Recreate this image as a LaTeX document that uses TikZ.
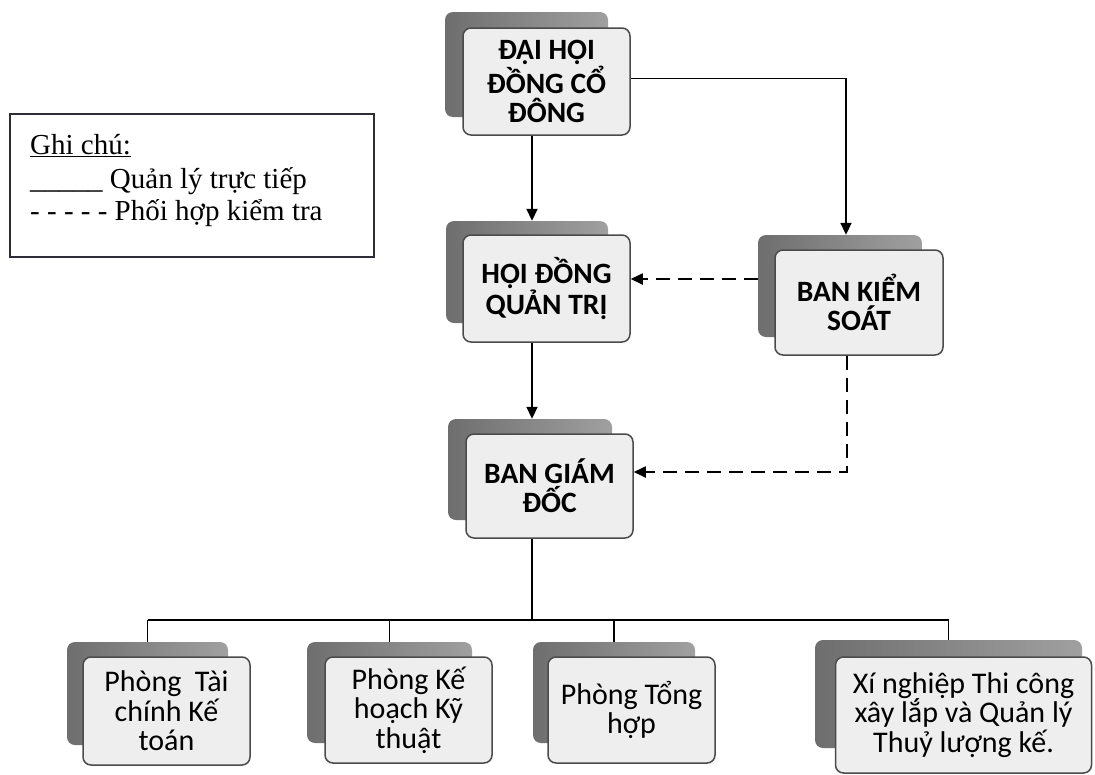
\documentclass[tikz,border=0pt]{standalone}
\usepackage{fontspec}
\setmainfont{Liberation Serif}
\newfontfamily\boxfnt{Carlito}
\usetikzlibrary{arrows.meta,calc}
\definecolor{backL}{RGB}{110,110,110}
\definecolor{backR}{RGB}{160,160,160}
\definecolor{frontF}{RGB}{238,238,238}
\definecolor{frontD}{RGB}{75,75,75}
\definecolor{legD}{RGB}{45,45,55}
\tikzset{
  backbox/.style={rectangle, rounded corners=8pt, draw=none, left color=backL, right color=backR, inner sep=0pt},
  frontbox/.style={rectangle, rounded corners=8pt, draw=frontD, line width=1.5pt, fill=frontF, inner sep=0pt, align=center},
  titlef/.style={font=\boxfnt\bfseries\fontsize{29.5}{29}\selectfont},
  deptf/.style={font=\boxfnt\fontsize{30}{29.5}\selectfont},
  conn/.style={line width=1.8pt, draw=black},
  arr/.style={conn, -{Triangle[length=12pt,width=11pt]}},
  dashconn/.style={line width=1.8pt, draw=black, dash pattern=on 14pt off 8pt},
  legtext/.style={anchor=base west, inner sep=0pt, font=\fontsize{29}{29}\selectfont}
}
\begin{document}
\begin{tikzpicture}[x=1pt,y=-1pt]
\fill[white] (0,0) rectangle (1095,774);
\useasboundingbox (0,0) rectangle (1095,774);

% Legend
\node[draw=legD, line width=2pt, minimum width=364pt, minimum height=143pt, inner sep=0pt] (leg) at (192,185.5) {};
\node[legtext] (lg1) at (30,154) {\underline{Ghi chú:}};
\node[legtext] (lg2) at (30,188) {\_\_\_\_\_ Quản lý trực tiếp};
\node[legtext] (lg3) at (30,220) {- - - - - Phối hợp kiểm tra};

% DAI HOI DONG CO DONG
\node[backbox, minimum width=163pt, minimum height=105pt] (dhb) at (526.5,64.5) {};
\node[frontbox, titlef, minimum width=167pt, minimum height=107pt] (dh) at (546.5,81.5) {ĐẠI HỘI\\ĐỒNG CỔ\\ĐÔNG};

% HOI DONG QUAN TRI
\node[backbox, minimum width=162pt, minimum height=102pt] (hqb) at (527,272) {};
\node[frontbox, titlef, minimum width=167pt, minimum height=107pt] (hq) at (546.5,288.5) {HỘI ĐỒNG\\QUẢN TRỊ};

% BAN KIEM SOAT
\node[backbox, minimum width=164pt, minimum height=102pt] (bksb) at (840,286) {};
\node[frontbox, titlef, minimum width=168pt, minimum height=105pt] (bks) at (859,302.5) {BAN KIỂM\\SOÁT};

% BAN GIAM DOC
\node[backbox, minimum width=164pt, minimum height=101pt] (bgdb) at (530,469.5) {};
\node[frontbox, titlef, minimum width=167pt, minimum height=104pt] (bgd) at (549.5,486) {BAN GIÁM\\ĐỐC};

% Departments
\node[backbox, minimum width=161pt, minimum height=103pt] (d1b) at (147.5,693.5) {};
\node[frontbox, deptf, minimum width=167pt, minimum height=108pt] (d1) at (166.5,711) {Phòng~ Tài\\chính Kế\\toán};

\node[backbox, minimum width=165pt, minimum height=101pt] (d2b) at (389.5,692.5) {};
\node[frontbox, deptf, minimum width=167pt, minimum height=106pt] (d2) at (408.5,710) {Phòng Kế\\hoạch Kỹ\\thuật};

\node[backbox, minimum width=162pt, minimum height=101pt] (d3b) at (614,692.5) {};
\node[frontbox, deptf, minimum width=167pt, minimum height=106pt] (d3) at (631.5,710) {Phòng Tổng\\hợp};

\node[backbox, minimum width=267pt, minimum height=108pt] (d4b) at (948.5,694) {};
\node[frontbox, deptf, minimum width=256pt, minimum height=116pt] (d4) at (963.5,715) {Xí nghiệp Thi công\\xây lắp và Quản lý\\Thuỷ lượng kế.};

% Connectors
\coordinate (c1) at ([yshift=3pt]dh.east);
\coordinate (c2) at ([xshift=6pt]bksb.north);
\draw[arr] (c1) -| (c2);

\coordinate (c3) at ([xshift=5pt]hqb.north);
\draw[arr] (c3 |- dh.south) -- (c3);

\coordinate (c4) at ([xshift=2pt]bgdb.north);
\draw[arr] (c4 |- hq.south) -- (c4);

\coordinate (k1) at ([yshift=7pt]bksb.west);
\draw[dashconn, -{Triangle[length=12pt,width=11pt]}] (k1) -- (k1 -| hq.east);

\coordinate (k2) at ([xshift=-12pt]bks.south);
\coordinate (k3) at ([yshift=14pt]bgd.east);
\draw[dashconn, -{Triangle[length=12pt,width=11pt]}] (k2) |- (k3);

\coordinate (bus) at (532,620);
\draw[conn] (bgd.south -| bus) -- (bus);
\draw[conn] (d1b.north |- bus) -- (d4b.north |- bus);
\draw[conn] (d1b.north |- bus) -- (d1b.north);
\draw[conn] (d2b.north |- bus) -- (d2b.north);
\draw[conn] (d3b.north |- bus) -- (d3b.north);
\draw[conn] (d4b.north |- bus) -- (d4b.north);
\end{tikzpicture}
\end{document}
